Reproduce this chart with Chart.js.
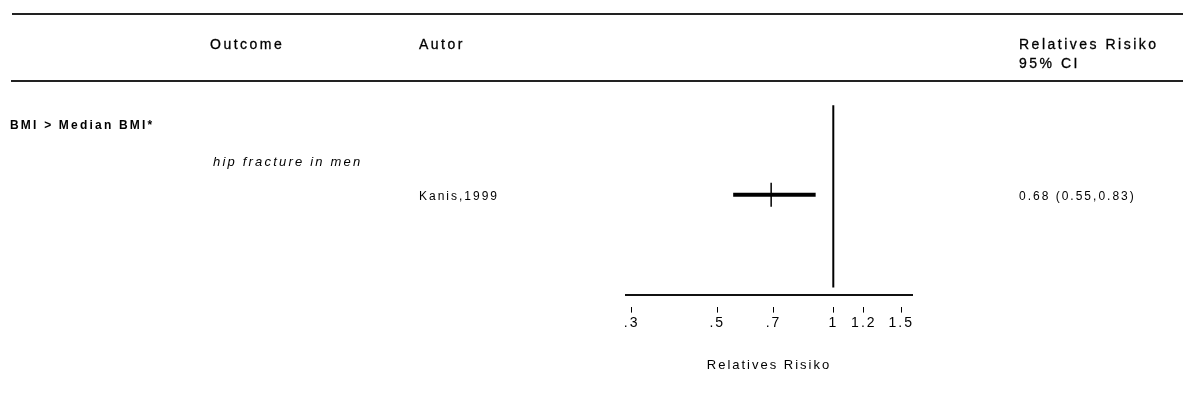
<!DOCTYPE html>
<html>
<head>
<meta charset="utf-8">
<script src="https://cdn.jsdelivr.net/npm/chart.js@4/dist/chart.umd.min.js"></script>
<style>
	html, body { margin: 0; padding: 0; background: #fff; }
	#wrap { position: relative; width: 1183px; height: 396px; overflow: hidden; font-family: Arial, "Liberation Sans", Helvetica, sans-serif; color: #000; }
	#forest { position: absolute; left: 0; top: 0; }
	.rule { position: absolute; height: 2px; background: #222; }
	.txt { position: absolute; white-space: nowrap; line-height: 1; transform: translateY(-50%); }
	.head { font-size: 14px; letter-spacing: 2.5px; -webkit-text-stroke: 0.3px #000; }
	.group { font-size: 12px; font-weight: bold; letter-spacing: 2.2px; }
	.outcome { font-size: 13px; font-style: italic; letter-spacing: 2.2px; }
	.study { font-size: 12px; letter-spacing: 2px; }
</style>
</head>
<body>
<div id="wrap">
	<canvas id="forest" width="1183" height="396"></canvas>
	<div class="rule" style="left:12px; top:13px; width:1171px;"></div>
	<div class="rule" style="left:11px; top:80px; width:1172px;"></div>
	<div class="txt head" style="left:210px; top:44px;">Outcome</div>
	<div class="txt head" style="left:419px; top:44px;">Autor</div>
	<div class="txt head" style="left:1019px; top:44px;">Relatives Risiko</div>
	<div class="txt head" style="left:1019px; top:63px;">95% CI</div>
	<div class="txt group" id="lbl-group" style="left:10px; top:125px;"></div>
	<div class="txt outcome" id="lbl-outcome" style="left:213px; top:161px;"></div>
	<div class="txt study" id="lbl-author" style="left:419px; top:196px;"></div>
	<div class="txt study" id="lbl-ci" style="left:1019px; top:196px;"></div>
</div>
<script>
	// Daten aus der Abbildung
	const groups = ['BMI > Median BMI*'];
	const outcomes = ['hip fracture in men'];
	const authors = ['Kanis,1999'];
	const estimates = [0.69];
	const ciLow = [0.55];
	const ciHigh = [0.90];
	const ciText = ['0.68 (0.55,0.83)'];
	const studyRows = [2];

	const tickValues = [0.3, 0.5, 0.7, 1, 1.2, 1.5];
	const tickLabels = ['.3', '.5', '.7', '1', '1.2', '1.5'];
	const refValue = 1;
	const refRows = [-0.55, 4.65];

	document.getElementById('lbl-group').textContent = groups[0];
	document.getElementById('lbl-outcome').textContent = outcomes[0];
	document.getElementById('lbl-author').textContent = authors[0];
	document.getElementById('lbl-ci').textContent = ciText[0];

	const ciLines = studyRows.map((row, i) => ({
		type: 'line',
		data: [{ x: ciLow[i], y: row }, { x: ciHigh[i], y: row }],
		borderColor: '#000',
		borderWidth: 4,
		pointRadius: 0,
		fill: false
	}));

	// gesperrte Schrift wie im Scan
	const spacing = {
		id: 'spacing',
		beforeLayout: (chart) => { chart.ctx.letterSpacing = '2px'; },
		beforeDraw: (chart) => { chart.ctx.letterSpacing = '2px'; }
	};

	const ctx = document.getElementById('forest').getContext('2d');

	new Chart(ctx, {
		data: {
			datasets: [
				{
					type: 'line',
					data: refRows.map(r => ({ x: refValue, y: r })),
					borderColor: '#000',
					borderWidth: 2,
					pointRadius: 0,
					fill: false
				},
				...ciLines,
				{
					type: 'scatter',
					data: studyRows.map((row, i) => ({ x: estimates[i], y: row })),
					pointStyle: 'line',
					rotation: 90,
					radius: 12,
					borderColor: '#000',
					borderWidth: 1.5
				}
			]
		},
		plugins: [spacing],
		options: {
			responsive: false,
			animation: false,
			layout: { padding: { left: 626, right: 271, top: 100, bottom: 23 } },
			scales: {
				x: {
					type: 'logarithmic',
					min: 0.29,
					max: 1.6,
					afterBuildTicks: (axis) => { axis.ticks = tickValues.map(v => ({ value: v })); },
					ticks: {
						autoSkip: false,
						maxRotation: 0,
						padding: 2,
						color: '#000',
						font: { family: 'Arial, "Liberation Sans", sans-serif', size: 14 },
						callback: (value) => tickLabels[tickValues.indexOf(value)]
					},
					grid: {
						drawOnChartArea: false,
						tickLength: 18,
						tickColor: '#000',
						tickWidth: 1,
						tickBorderDash: [0, 11, 6, 100]
					},
					border: { display: true, color: '#111', width: 2 },
					title: {
						display: true,
						text: 'Relatives Risiko',
						color: '#000',
						font: { family: 'Arial, "Liberation Sans", sans-serif', size: 13 },
						padding: { top: 24, bottom: 0 }
					}
				},
				y: {
					type: 'linear',
					reverse: true,
					min: -0.7,
					max: 4.85,
					display: false
				}
			},
			plugins: {
				legend: { display: false },
				tooltip: { enabled: false }
			}
		}
	});
</script>
</body>
</html>
